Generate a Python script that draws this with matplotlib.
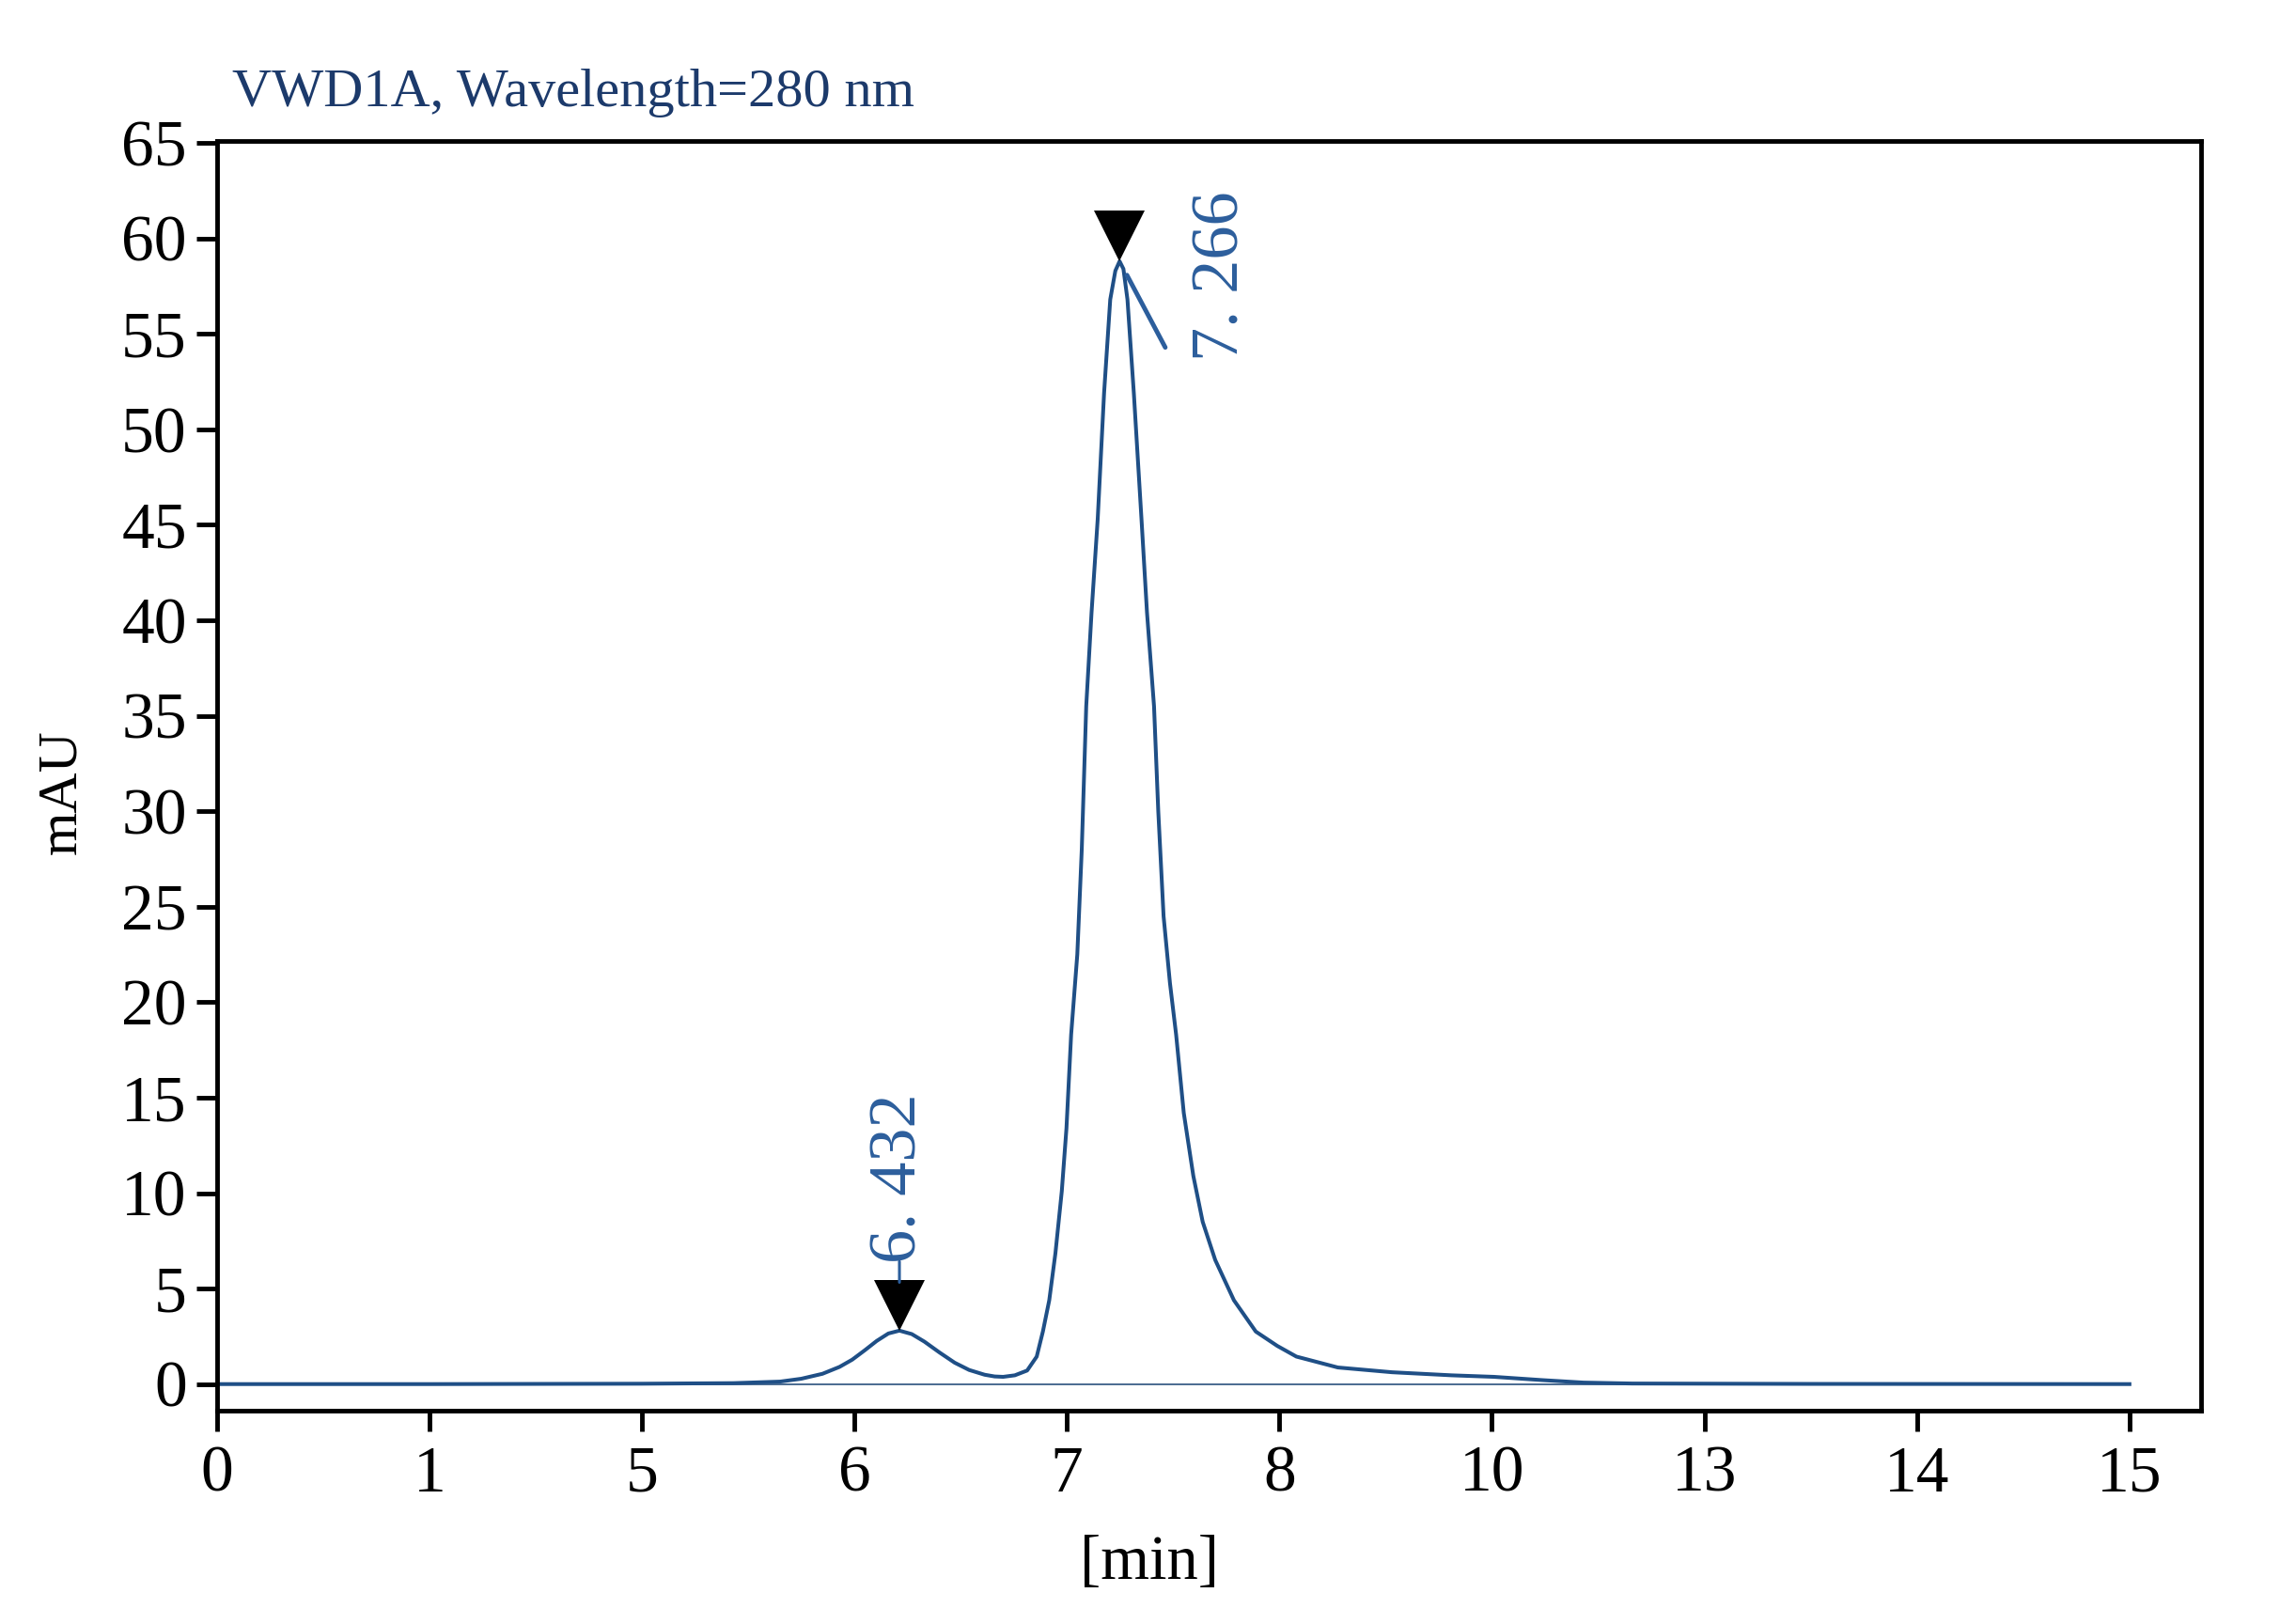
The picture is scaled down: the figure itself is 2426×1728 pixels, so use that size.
import numpy as np
import matplotlib
matplotlib.use("Agg")
import matplotlib.pyplot as plt
from matplotlib.transforms import offset_copy

plt.rcParams['font.family'] = ['Liberation Serif', 'DejaVu Serif']

# x axis is broken: labels sit on evenly spaced slots
tick_labels = ['0', '1', '5', '6', '7', '8', '10', '13', '14', '15']
y_ticks = list(range(0, 70, 5))

# trace (x in slot units, y in mAU)
pos = [0.00, 1.00, 2.00, 2.43, 2.65, 2.75, 2.85, 2.93, 2.99, 3.05,
       3.105, 3.16, 3.212, 3.27, 3.33, 3.40, 3.472, 3.54, 3.613, 3.66,
       3.70, 3.755, 3.813, 3.858, 3.887, 3.917, 3.946, 3.976, 3.998, 4.020,
       4.049, 4.070, 4.091, 4.116, 4.145, 4.175, 4.204, 4.228, 4.248, 4.266,
       4.285, 4.315, 4.351, 4.377, 4.410, 4.430, 4.455, 4.485, 4.514, 4.550,
       4.595, 4.639, 4.698, 4.786, 4.889, 4.99, 5.08, 5.135, 5.275, 5.53,
       5.81, 6.01, 6.235, 6.43, 6.66, 7.5, 9.0]
mau = [0.00, 0.00, 0.02, 0.05, 0.13, 0.28, 0.54, 0.90, 1.28, 1.78,
       2.26, 2.65, 2.80, 2.62, 2.22, 1.66, 1.12, 0.74, 0.49, 0.40,
       0.38, 0.46, 0.71, 1.44, 2.75, 4.39, 6.85, 10.1, 13.4, 18.3,
       22.5, 28.0, 35.5, 40.4, 45.3, 51.9, 56.8, 58.3, 58.8, 58.4,
       56.8, 51.9, 45.3, 40.4, 35.5, 30.0, 24.5, 21.0, 18.3, 14.2,
       10.9, 8.5, 6.5, 4.39, 2.75, 2.0, 1.44, 1.28, 0.87, 0.62,
       0.46, 0.38, 0.21, 0.08, 0.03, 0.01, 0.00]

peak_pos = [3.212, 4.248]
peak_mau = [2.80, 58.8]
peak_labels = ['6. 432', '7. 266']

line_col = '#1f4f86'
label_col = '#2c5e9c'

fig = plt.figure(figsize=(24.26, 17.28), dpi=100)
ax = fig.add_axes([0.0951, 0.1315, 0.8701, 0.7817])

# integration baseline + signal
ax.plot([pos[0], pos[-1]], [0, 0], color='#4a6a90', lw=1.4)
ax.plot(pos, mau, color=line_col, lw=2.9, solid_joinstyle='round')

# peak markers, tip sitting on the apex
ms = 39
tri = offset_copy(ax.transData, fig=fig, x=0, y=ms / 2, units='points')
ax.plot(peak_pos, peak_mau, 'v', color='black', ms=ms, mew=0,
        transform=tri, clip_on=False)

# small peak: vertical leader and label above
ax.annotate('', xy=(peak_pos[0], peak_mau[0]), xytext=(0, 53),
            textcoords='offset points',
            arrowprops=dict(arrowstyle='-', color=label_col, lw=2.2,
                            shrinkA=0, shrinkB=37))
ax.annotate(peak_labels[0], xy=(peak_pos[0], peak_mau[0]), xytext=(0, 52),
            textcoords='offset points', rotation=90, ha='center',
            va='bottom', fontsize=52, color=label_col)

# main peak: slanted leader and label to the right
ax.annotate('', xy=(peak_pos[1], peak_mau[1]), xytext=(35, -66),
            textcoords='offset points',
            arrowprops=dict(arrowstyle='-', color=label_col, lw=3.5,
                            shrinkA=0, shrinkB=12))
ax.annotate(peak_labels[1], xy=(peak_pos[1], peak_mau[1]), xytext=(78, -76),
            textcoords='offset points', rotation=90, ha='center',
            va='bottom', fontsize=52, color=label_col)

ax.set_xlim(0, 9.335)
ax.set_ylim(-1.38, 65.1)
ax.set_xticks(np.arange(len(tick_labels)))
ax.set_xticklabels(tick_labels)
ax.set_yticks(y_ticks)

for s in ax.spines.values():
    s.set_linewidth(3.5)
ax.tick_params(direction='out', length=16, width=3.5, labelsize=50)
ax.tick_params(axis='x', pad=11)
ax.tick_params(axis='y', pad=7)

ax.set_ylabel('mAU', fontsize=43)
ax.yaxis.label.set_va('center')
ax.yaxis.set_label_coords(-0.0778, 0.487)
ax.set_xlabel('[min]', fontsize=48)
ax.xaxis.set_label_coords(0.470, -0.098)

fig.text(0.102, 0.9346, 'VWD1A, Wavelength=280 nm', va='baseline',
         ha='left', fontsize=42, color='#1c3a6b')

fig.savefig('out.png', dpi=100, facecolor='white')
